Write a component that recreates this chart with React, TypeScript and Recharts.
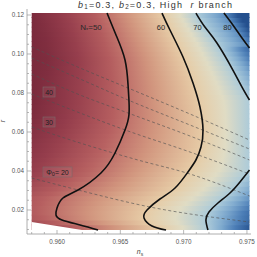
import React from "react";
import { ComposedChart, XAxis, YAxis, Line, Scatter, ReferenceArea, Area } from "recharts";

// ---- plot ranges ----
const N_MIN = 0.958;
const N_MAX = 0.9752;
const R_MIN = 0.0097;
const R_MAX = 0.121;
const X_DOMAIN: [number, number] = [0.95763, 0.97532];
const Y_DOMAIN: [number, number] = [0.00769, 0.12308];

// ---- ticks ----
const xMajor = [0.96, 0.965, 0.97, 0.975];
const xMinor = [0.958, 0.959, 0.961, 0.962, 0.963, 0.964, 0.966, 0.967, 0.968, 0.969, 0.971, 0.972, 0.973, 0.974];
const yMajor = [0.02, 0.04, 0.06, 0.08, 0.1, 0.12];
const yMinor = [0.01, 0.015, 0.025, 0.03, 0.035, 0.045, 0.05, 0.055, 0.065, 0.07, 0.075, 0.085, 0.09, 0.095, 0.105, 0.11, 0.115];
const xLabels = ["0.960", "0.965", "0.970", "0.975"];
const yLabels = ["0.02", "0.04", "0.06", "0.08", "0.10", "0.12"];

// ---- N_* contours (solid) ----
const contour50 = [
  { n: 0.96395, r: 0.121 }, { n: 0.96466, r: 0.10974 }, { n: 0.96537, r: 0.09692 },
  { n: 0.96561, r: 0.0841 }, { n: 0.96568, r: 0.07641 }, { n: 0.96568, r: 0.06872 },
  { n: 0.96537, r: 0.06102 }, { n: 0.96458, r: 0.04923 }, { n: 0.96347, r: 0.03897 },
  { n: 0.96166, r: 0.03026 }, { n: 0.96047, r: 0.02615 }, { n: 0.96, r: 0.02103 },
  { n: 0.95992, r: 0.01744 }, { n: 0.96039, r: 0.01487 }, { n: 0.96182, r: 0.01231 },
  { n: 0.96324, r: 0.0097 },
];
const contour60 = [
  { n: 0.96829, r: 0.121 }, { n: 0.96892, r: 0.1123 }, { n: 0.96995, r: 0.09846 },
  { n: 0.97074, r: 0.08513 }, { n: 0.97129, r: 0.07282 }, { n: 0.97153, r: 0.06102 },
  { n: 0.97137, r: 0.05231 }, { n: 0.97097, r: 0.04564 }, { n: 0.97034, r: 0.03949 },
  { n: 0.96932, r: 0.03128 }, { n: 0.96813, r: 0.02564 }, { n: 0.96711, r: 0.02 },
  { n: 0.96687, r: 0.0159 }, { n: 0.9675, r: 0.01179 }, { n: 0.96861, r: 0.0097 },
];
const contour70Top = [
  { n: 0.97097, r: 0.121 }, { n: 0.97168, r: 0.11384 }, { n: 0.97263, r: 0.10564 },
  { n: 0.97389, r: 0.09179 }, { n: 0.97461, r: 0.08307 }, { n: 0.9752, r: 0.07641 },
];
const contour70Bottom = [
  { n: 0.9752, r: 0.04051 }, { n: 0.97445, r: 0.03436 }, { n: 0.97366, r: 0.02872 },
  { n: 0.97271, r: 0.02359 }, { n: 0.972, r: 0.01897 }, { n: 0.97176, r: 0.01487 },
  { n: 0.97192, r: 0.0097 },
];
const contour80 = [
  { n: 0.97318, r: 0.121 }, { n: 0.97389, r: 0.11487 }, { n: 0.97461, r: 0.1082 },
  { n: 0.9752, r: 0.10307 },
];
const nLevels = [
  { N: 50, pieces: [contour50] },
  { N: 60, pieces: [contour60] },
  { N: 70, pieces: [contour70Top, contour70Bottom] },
  { N: 80, pieces: [contour80] },
];
const nLabels = [
  { n: 0.96269, r: 0.1139, text: "50", star: true },
  { n: 0.96821, r: 0.1139, text: "60", star: false },
  { n: 0.97109, r: 0.1139, text: "70", star: false },
  { n: 0.97346, r: 0.1139, text: "80", star: false },
];

// ---- Phi_0 contours (dashed) ----
const phi70 = [
  { n: 0.958, r: 0.10359 }, { n: 0.96182, r: 0.09282 }, { n: 0.96561, r: 0.08256 },
  { n: 0.9705, r: 0.06923 }, { n: 0.9752, r: 0.0559 },
];
const phi60 = [
  { n: 0.958, r: 0.09795 }, { n: 0.96182, r: 0.08718 }, { n: 0.96561, r: 0.07641 },
  { n: 0.9705, r: 0.06359 }, { n: 0.9752, r: 0.05128 },
];
const phi50 = [
  { n: 0.958, r: 0.08974 }, { n: 0.96182, r: 0.07897 }, { n: 0.96561, r: 0.06974 },
  { n: 0.9705, r: 0.05795 }, { n: 0.9752, r: 0.04564 },
];
const phi40 = [
  { n: 0.958, r: 0.07948 }, { n: 0.96182, r: 0.06974 }, { n: 0.96561, r: 0.06051 },
  { n: 0.9705, r: 0.04974 }, { n: 0.9752, r: 0.03846 },
];
const phi30 = [
  { n: 0.958, r: 0.06256 }, { n: 0.96182, r: 0.05436 }, { n: 0.96639, r: 0.04564 },
  { n: 0.9705, r: 0.03846 }, { n: 0.9752, r: 0.02718 },
];
const phi20 = [
  { n: 0.958, r: 0.03641 }, { n: 0.96166, r: 0.03026 }, { n: 0.96734, r: 0.02154 },
  { n: 0.9752, r: 0.01385 },
];
const phiLines = [phi70, phi60, phi50, phi40, phi30, phi20];
const phiLabels = [
  { n: 0.95937, r: 0.08051, text: "40", w: 12 },
  { n: 0.95937, r: 0.06513, text: "30", w: 12 },
  { n: 0.96004, r: 0.03949, text: "20", w: 29 },
];

// ---- excluded corner (white wedge) ----
const wedge = [
  { n: 0.958, r: 0.01385 },
  { n: 0.96197, r: 0.0097 },
];

// ---- colour scale (value of N_*) ----
const colorN = [36, 42, 48, 54, 60, 65, 70, 76, 82, 90];
const colorHex = ["#7a2a3c", "#953d4c", "#b65f60", "#d39880", "#e6cba6", "#e0dcc4", "#adcbd9", "#80abcf", "#4c7eb7", "#24508e"];

const FONT = "'Liberation Sans', Arial, sans-serif";
const STRIPS = 45;

function hexToRgb(h: string) {
  return [parseInt(h.slice(1, 3), 16), parseInt(h.slice(3, 5), 16), parseInt(h.slice(5, 7), 16)];
}
function colorFor(N: number) {
  const v = Math.max(colorN[0], Math.min(colorN[colorN.length - 1], N));
  let i = 0;
  while (i < colorN.length - 2 && v > colorN[i + 1]) i++;
  const t = (v - colorN[i]) / (colorN[i + 1] - colorN[i]);
  const a = hexToRgb(colorHex[i]);
  const b = hexToRgb(colorHex[i + 1]);
  const c = a.map((x, k) => Math.round(x + (b[k] - x) * t));
  return `rgb(${c[0]},${c[1]},${c[2]})`;
}
function crossing(piece: { n: number; r: number }[], y: number): number | null {
  for (let i = 0; i < piece.length - 1; i++) {
    const a = piece[i], b = piece[i + 1];
    if ((y - a.r) * (y - b.r) <= 0 && a.r !== b.r) {
      return a.n + ((y - a.r) / (b.r - a.r)) * (b.n - a.n);
    }
  }
  return null;
}
function stripStops(y: number) {
  const pts: { x: number; N: number }[] = [];
  for (const lv of nLevels) {
    let x: number | null = null;
    for (const p of lv.pieces) {
      const c = crossing(p, y);
      if (c !== null) { x = c; break; }
    }
    if (x === null) {
      const rs = lv.pieces.flat().map((p) => p.r);
      if (y < Math.max(...rs) && y > Math.min(...rs)) x = N_MAX;
    }
    if (x !== null) pts.push({ x, N: lv.N });
  }
  pts.sort((a, b) => a.x - b.x);
  const all: { x: number; N: number }[] = [];
  if (pts.length >= 2) {
    const s = (pts[1].N - pts[0].N) / (pts[1].x - pts[0].x);
    all.push({ x: N_MIN, N: pts[0].N - s * (pts[0].x - N_MIN) });
  }
  all.push(...pts);
  const last = pts[pts.length - 1];
  if (last.x < N_MAX - 1e-6 && pts.length >= 2) {
    const p = pts[pts.length - 2];
    const s = (last.N - p.N) / (last.x - p.x);
    all.push({ x: N_MAX, N: last.N + 2.2 * s * (N_MAX - last.x) });
  }
  const stops: { o: number; c: string }[] = [];
  for (let i = 0; i < all.length - 1; i++) {
    const a = all[i], b = all[i + 1];
    const k = 6;
    for (let j = 0; j < k; j++) {
      const t = j / k;
      stops.push({ o: (a.x + (b.x - a.x) * t - N_MIN) / (N_MAX - N_MIN), c: colorFor(a.N + (b.N - a.N) * t) });
    }
  }
  const e = all[all.length - 1];
  stops.push({ o: (e.x - N_MIN) / (N_MAX - N_MIN), c: colorFor(e.N) });
  return stops.map((s) => ({ o: Math.max(0, Math.min(1, s.o)), c: s.c }));
}

const strips = Array.from({ length: STRIPS }, (_, i) => {
  const y1 = R_MIN + ((R_MAX - R_MIN) * i) / STRIPS;
  const y2 = R_MIN + ((R_MAX - R_MIN) * (i + 1)) / STRIPS;
  return { y1, y2: i === STRIPS - 1 ? y2 : y2 + 0.0004, stops: stripStops((y1 + y2) / 2) };
});

const FRAME = "#9a9a9a";

const BottomTick = (p: any) => {
  const v = p.payload.value;
  const i = xMajor.indexOf(v);
  return (
    <g>
      <line x1={p.x} y1={p.y} x2={p.x} y2={p.y - (i >= 0 ? 4 : 2)} stroke={FRAME} strokeWidth={0.7} />
      {i >= 0 && (
        <text x={p.x} y={p.y + 9.5} textAnchor="middle" fontSize={6.3} fill="#555" fontFamily={FONT}>{xLabels[i]}</text>
      )}
    </g>
  );
};
const TopTick = (p: any) => {
  const v = p.payload.value;
  const major = xMajor.indexOf(v) >= 0;
  return <line x1={p.x} y1={p.y} x2={p.x} y2={p.y + (major ? 4 : 2)} stroke={FRAME} strokeWidth={0.7} />;
};
const LeftTick = (p: any) => {
  const v = p.payload.value;
  const i = yMajor.indexOf(v);
  return (
    <g>
      <line x1={p.x} y1={p.y} x2={p.x + (i >= 0 ? 4 : 2)} y2={p.y} stroke={FRAME} strokeWidth={0.7} />
      {i >= 0 && (
        <text x={p.x - 3} y={p.y + 2.2} textAnchor="end" fontSize={6.3} fill="#555" fontFamily={FONT}>{yLabels[i]}</text>
      )}
    </g>
  );
};
const RightTick = (p: any) => {
  const v = p.payload.value;
  const major = yMajor.indexOf(v) >= 0;
  return <line x1={p.x} y1={p.y} x2={p.x - (major ? 4 : 2)} y2={p.y} stroke={FRAME} strokeWidth={0.7} />;
};

const NLabelShape = (p: any) => {
  const d = p.payload;
  if (d.star) {
    return (
      <text x={p.cx} y={p.cy + 3} textAnchor="middle" fontSize={8} fill="#2a2a2a" fontFamily={FONT}>
        N<tspan fontSize={5.5} dy={2}>*</tspan><tspan dy={-2}>=50</tspan>
      </text>
    );
  }
  return <text x={p.cx} y={p.cy + 3} textAnchor="middle" fontSize={7.5} fill="#2a2a2a" fontFamily={FONT}>{d.text}</text>;
};
const PhiLabelShape = (p: any) => {
  const d = p.payload;
  return (
    <g>
      <rect x={p.cx - d.w / 2} y={p.cy - 5} width={d.w} height={10} fill="#ffffff" fillOpacity={0.06}
        stroke="#7a6a6a" strokeWidth={0.6} />
      {d.w > 20 ? (
        <text x={p.cx} y={p.cy + 2.7} textAnchor="middle" fontSize={7} fill="#222" fontFamily={FONT}>
          Φ<tspan fontSize={5.5} dy={1.5}>0</tspan><tspan dy={-1.5}>= {d.text}</tspan>
        </text>
      ) : (
        <text x={p.cx} y={p.cy + 2.7} textAnchor="middle" fontSize={7} fill="#222" fontFamily={FONT}>{d.text}</text>
      )}
    </g>
  );
};

export default function App() {
  return (
    <div style={{ position: "absolute", left: 0, top: 0, width: 257, height: 257, background: "#fff" }}>
      <ComposedChart width={257} height={257} margin={{ top: 9, right: 6, bottom: 0, left: 0 }}>
        <defs>
          {strips.map((s, i) => (
            <linearGradient key={i} id={`bg${i}`} x1="0" y1="0" x2="1" y2="0">
              {s.stops.map((st, j) => (
                <stop key={j} offset={st.o} stopColor={st.c} />
              ))}
            </linearGradient>
          ))}
        </defs>
        <XAxis xAxisId="b" dataKey="n" type="number" domain={X_DOMAIN} allowDataOverflow orientation="bottom" height={23}
          ticks={[...xMajor, ...xMinor]} interval={0} tickSize={0} tickMargin={0} tickLine={false}
          axisLine={{ stroke: FRAME, strokeWidth: 0.8 }} tick={BottomTick} />
        <XAxis xAxisId="t" dataKey="n" type="number" domain={X_DOMAIN} allowDataOverflow orientation="top" height={0}
          ticks={[...xMajor, ...xMinor]} interval={0} tickSize={0} tickMargin={0} tickLine={false}
          axisLine={{ stroke: FRAME, strokeWidth: 0.8 }} tick={TopTick} />
        <YAxis yAxisId="l" dataKey="r" type="number" domain={Y_DOMAIN} allowDataOverflow orientation="left" width={27}
          ticks={[...yMajor, ...yMinor]} interval={0} tickSize={0} tickMargin={0} tickLine={false}
          axisLine={{ stroke: FRAME, strokeWidth: 0.8 }} tick={LeftTick} />
        <YAxis yAxisId="rt" dataKey="r" type="number" domain={Y_DOMAIN} allowDataOverflow orientation="right" width={0}
          ticks={[...yMajor, ...yMinor]} interval={0} tickSize={0} tickMargin={0} tickLine={false}
          axisLine={{ stroke: FRAME, strokeWidth: 0.8 }} tick={RightTick} />

        {strips.map((s, i) => (
          <ReferenceArea key={`s${i}`} xAxisId="b" yAxisId="l" x1={N_MIN} x2={N_MAX} y1={s.y1} y2={s.y2}
            fill={`url(#bg${i})`} fillOpacity={1} stroke="none" />
        ))}
        <Area xAxisId="b" yAxisId="l" data={wedge} dataKey="r" type="linear" baseValue={R_MIN - 0.0004}
          fill="#ffffff" fillOpacity={1} stroke="none" isAnimationActive={false} />

        {phiLines.map((d, i) => (
          <Line key={`p${i}`} xAxisId="b" yAxisId="l" data={d} dataKey="r" type="monotone" dot={false}
            stroke="#505050" strokeOpacity={0.75} strokeWidth={0.85} strokeDasharray="3 2.4" isAnimationActive={false} />
        ))}
        {[contour50, contour60, contour70Top, contour70Bottom, contour80].map((d, i) => (
          <Line key={`c${i}`} xAxisId="b" yAxisId="l" data={d} dataKey="r" type="natural" dot={false}
            stroke="#111" strokeWidth={1.6} isAnimationActive={false} />
        ))}
        <Scatter xAxisId="b" yAxisId="l" data={nLabels} dataKey="r" shape={NLabelShape} isAnimationActive={false} />
        <Scatter xAxisId="b" yAxisId="l" data={phiLabels} dataKey="r" shape={PhiLabelShape} isAnimationActive={false} />

        <text x={155} y={7.5} textAnchor="middle" fontSize={9} fill="#333" fontFamily={FONT}
          textLength={154} lengthAdjust="spacing">
          <tspan fontStyle="italic">b</tspan><tspan fontSize={6.3} dy={1.5}>1</tspan><tspan dy={-1.5}>=0.3,{"\u00a0"}</tspan>
          <tspan fontStyle="italic">b</tspan><tspan fontSize={6.3} dy={1.5}>2</tspan><tspan dy={-1.5}>=0.3,{"\u00a0"}High{"\u00a0\u00a0"}</tspan>
          <tspan fontStyle="italic">r</tspan><tspan>{"\u00a0"}branch</tspan>
        </text>
        <text x={140} y={254} textAnchor="middle" fontSize={7} fill="#444" fontFamily={FONT}>
          <tspan fontStyle="italic">n</tspan><tspan fontSize={5} dy={1.5}>s</tspan>
        </text>
        <text x={5} y={121} textAnchor="middle" fontSize={7} fill="#444" fontFamily={FONT} fontStyle="italic"
          transform="rotate(-90 5 121)">r</text>
      </ComposedChart>
    </div>
  );
}
